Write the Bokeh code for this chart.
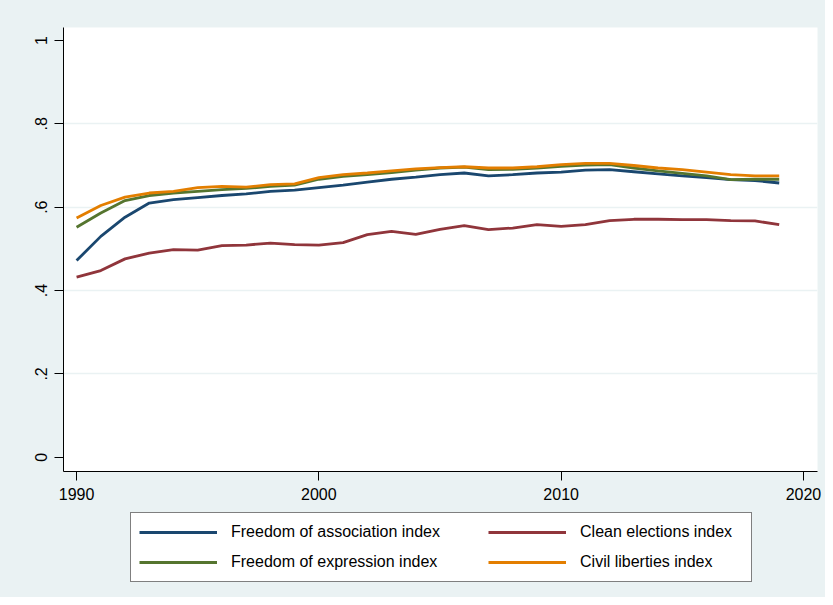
from bokeh.plotting import figure
from bokeh.models import Range1d, FixedTicker, Legend, LegendItem
from bokeh.layouts import column
from bokeh.embed import file_html
from bokeh.resources import INLINE

years = list(range(1990, 2020))

assoc = [0.472, 0.530, 0.576, 0.610, 0.618, 0.623, 0.628, 0.632, 0.638, 0.641,
         0.647, 0.653, 0.660, 0.667, 0.672, 0.678, 0.682, 0.675, 0.678, 0.682,
         0.684, 0.689, 0.690, 0.685, 0.680, 0.675, 0.671, 0.666, 0.664, 0.658]
clean = [0.432, 0.448, 0.476, 0.490, 0.498, 0.497, 0.508, 0.509, 0.514, 0.510,
         0.509, 0.515, 0.534, 0.542, 0.535, 0.547, 0.556, 0.546, 0.550, 0.558,
         0.554, 0.558, 0.568, 0.571, 0.571, 0.570, 0.570, 0.568, 0.567, 0.558]
expr = [0.552, 0.586, 0.616, 0.628, 0.634, 0.638, 0.642, 0.645, 0.650, 0.653,
        0.667, 0.674, 0.678, 0.683, 0.689, 0.694, 0.696, 0.690, 0.691, 0.694,
        0.698, 0.701, 0.702, 0.694, 0.687, 0.681, 0.675, 0.666, 0.667, 0.667]
civil = [0.574, 0.604, 0.624, 0.634, 0.638, 0.647, 0.650, 0.648, 0.654, 0.656,
         0.671, 0.678, 0.682, 0.687, 0.692, 0.695, 0.697, 0.694, 0.694, 0.697,
         0.702, 0.705, 0.705, 0.700, 0.694, 0.690, 0.684, 0.678, 0.675, 0.675]

series_names = ["Freedom of association index", "Clean elections index",
                "Freedom of expression index", "Civil liberties index"]
colors = ["#1a476f", "#90353b", "#55752f", "#e37e00"]

x_ticks = [1990, 2000, 2010, 2020]
y_ticks = [0, 0.2, 0.4, 0.6, 0.8, 1]
y_tick_labels = ["0", ".2", ".4", ".6", ".8", "1"]

BG = "#EAF2F3"
FONT = "Liberation Sans"
LW = 2.8
W = 825

# ---------------- main plot ----------------
p = figure(width=W, height=508, output_backend="svg", toolbar_location=None,
           x_range=Range1d(1989.46, 2020.58), y_range=Range1d(-0.034, 1.031),
           min_border_left=63, min_border_right=8, min_border_top=27,
           min_border_bottom=37)
p.border_fill_color = BG
p.background_fill_color = "white"
p.outline_line_color = None

for ys, c in zip([assoc, clean, expr, civil], colors):
    p.line(years, ys, line_color=c, line_width=LW)

for ax in (p.xaxis[0], p.yaxis[0]):
    ax.axis_line_color = "black"
    ax.axis_line_width = 1
    ax.major_tick_line_color = "black"
    ax.major_tick_out = 9
    ax.major_tick_in = 0
    ax.minor_tick_line_color = None
    ax.major_label_text_font = FONT
    ax.major_label_text_font_size = "16px"
    ax.major_label_text_color = "black"

p.xaxis[0].ticker = FixedTicker(ticks=x_ticks, minor_ticks=[])
p.xaxis[0].major_label_standoff = 7
p.yaxis[0].ticker = FixedTicker(ticks=y_ticks, minor_ticks=[])
p.yaxis[0].major_label_overrides = {t: l for t, l in zip(y_ticks, y_tick_labels)}
p.yaxis[0].major_label_orientation = "vertical"
p.yaxis[0].major_label_standoff = 7

p.xgrid.grid_line_color = None
p.ygrid.ticker = FixedTicker(ticks=y_ticks[1:-1])
p.ygrid.grid_line_color = BG
p.ygrid.grid_line_width = 1.5

# ---------------- legend strip ----------------
q = figure(width=W, height=89, output_backend="svg", toolbar_location=None,
           x_range=Range1d(0, 1), y_range=Range1d(0, 1),
           min_border_left=63, min_border_right=8, min_border_top=0,
           min_border_bottom=0, x_axis_location=None, y_axis_location=None)
q.border_fill_color = BG
q.background_fill_color = BG
q.outline_line_color = None
q.grid.grid_line_color = None

nan = float("nan")
keys = [q.line(x=[nan], y=[nan], line_color=c, line_width=LW) for c in colors]

# Bokeh fills a multi-column legend column by column
pad = "\u00a0" * 9
order = [0, 2, 1, 3]
items = [LegendItem(label=series_names[i] + (pad if i == 0 else ""),
                    renderers=[keys[i]]) for i in order]

leg = Legend(items=items, ncols=2, location=(67, 15),
             glyph_width=78, glyph_height=22, label_height=22, label_standoff=14,
             label_width=163, padding=8, spacing=8, margin=0,
             label_text_font=FONT, label_text_font_size="16px",
             label_text_color="black",
             border_line_color="black", border_line_width=1,
             background_fill_color="white", background_fill_alpha=1)
q.add_layout(leg, "center")

layout = column(p, q, spacing=0, styles={"background-color": BG})
open("out.html", "w").write(file_html(layout, INLINE))
